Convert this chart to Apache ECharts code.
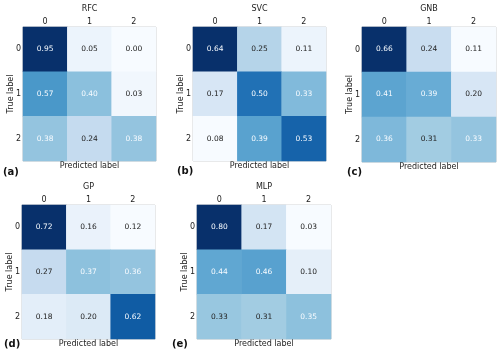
<!DOCTYPE html>
<html>
<head>
<meta charset="utf-8">
<script src="https://cdn.jsdelivr.net/npm/echarts@6/dist/echarts.min.js"></script>
<style>
  html, body { margin: 0; padding: 0; background: #fff; }
  #chart { width: 500px; height: 355px; }
</style>
</head>
<body>
<div id="chart"></div>
<script>
// confusion matrices (rows = true label, cols = predicted label)
var classes = ["0", "1", "2"];
var modelNames = ["RFC", "SVC", "GNB", "GP", "MLP"];
var panelTags = ["(a)", "(b)", "(c)", "(d)", "(e)"];
var rfc = [[0.95, 0.05, 0.00], [0.57, 0.40, 0.03], [0.38, 0.24, 0.38]];
var svc = [[0.64, 0.25, 0.11], [0.17, 0.50, 0.33], [0.08, 0.39, 0.53]];
var gnb = [[0.66, 0.24, 0.11], [0.41, 0.39, 0.20], [0.36, 0.31, 0.33]];
var gp = [[0.72, 0.16, 0.12], [0.27, 0.37, 0.36], [0.18, 0.20, 0.62]];
var mlp = [[0.80, 0.17, 0.03], [0.44, 0.46, 0.10], [0.33, 0.31, 0.35]];
var matrices = [rfc, svc, gnb, gp, mlp];

var blues = ["#f7fbff", "#deebf7", "#c6dbef", "#9ecae1", "#6baed6",
  "#4292c6", "#2171b5", "#08519c", "#08306b"];

// panel boxes (left, top, width, height)
var boxes = [
  [23, 27, 133, 134],
  [193, 27, 133, 134],
  [362, 27, 134, 135],
  [22, 205, 133, 134],
  [197, 205, 134, 134]
];
var tagPos = [[3, 167], [177, 166], [347, 167], [4, 339], [172, 339]];

var font = "DejaVu Sans";
var chart = echarts.init(document.getElementById("chart"));

var grids = [], xAxes = [], yAxes = [], series = [], visualMaps = [], titles = [];

matrices.forEach(function (m, i) {
  var b = boxes[i];
  var flat = [].concat.apply([], m);
  var lo = Math.min.apply(null, flat);
  var hi = Math.max.apply(null, flat);

  grids.push({
    left: b[0], top: b[1], width: b[2], height: b[3],
    show: true, borderColor: "#c8c8c8", borderWidth: 1
  });

  // top axis with column labels
  xAxes.push({
    type: "category", gridIndex: i, position: "top", data: classes,
    axisLine: { show: false }, axisTick: { show: false },
    axisLabel: { margin: 1, fontSize: 8, color: "#222", fontFamily: font },
    splitLine: { show: false }
  });
  // bottom axis only for the name
  xAxes.push({
    type: "category", gridIndex: i, position: "bottom", data: classes,
    axisLine: { show: false }, axisTick: { show: false },
    axisLabel: { show: false },
    name: "Predicted label", nameLocation: "middle", nameGap: 1,
    nameMoveOverlap: false,
    nameTextStyle: { fontSize: 8, color: "#222", fontFamily: font }
  });
  yAxes.push({
    type: "category", gridIndex: i, data: classes, inverse: true,
    axisLine: { show: false }, axisTick: { show: false },
    axisLabel: { margin: 2, fontSize: 8, color: "#222", fontFamily: font },
    name: "True label", nameLocation: "middle", nameGap: 8, nameRotate: 90,
    nameMoveOverlap: false,
    nameTextStyle: { fontSize: 8, color: "#222", fontFamily: font }
  });

  var data = [];
  m.forEach(function (row, r) {
    row.forEach(function (v, c) {
      var t = (v - lo) / (hi - lo);
      data.push({
        value: [c, r, v],
        label: { color: t >= 0.399 ? "#f7fbff" : "#222" }
      });
    });
  });

  series.push({
    type: "heatmap", name: modelNames[i],
    xAxisIndex: i * 2, yAxisIndex: i,
    data: data,
    label: {
      show: true, fontSize: 7.5, fontFamily: font,
      formatter: function (p) { return p.value[2].toFixed(2); }
    },
    itemStyle: { borderWidth: 0 },
    emphasis: { disabled: true }
  });

  visualMaps.push({
    show: false, seriesIndex: i, dimension: 2,
    min: lo, max: hi, inRange: { color: blues }
  });

  titles.push({
    text: modelNames[i], padding: 0,
    left: b[0] + b[2] / 2, top: b[1] - 22, textAlign: "center",
    textStyle: { fontSize: 8, fontWeight: "normal", color: "#222", fontFamily: font }
  });
  titles.push({
    text: panelTags[i], padding: 0,
    left: tagPos[i][0], top: tagPos[i][1],
    textStyle: { fontSize: 10, fontWeight: "bold", color: "#111", fontFamily: font }
  });
});

chart.setOption({
  animation: false,
  title: titles,
  grid: grids,
  xAxis: xAxes,
  yAxis: yAxes,
  visualMap: visualMaps,
  series: series
});
</script>
</body>
</html>
